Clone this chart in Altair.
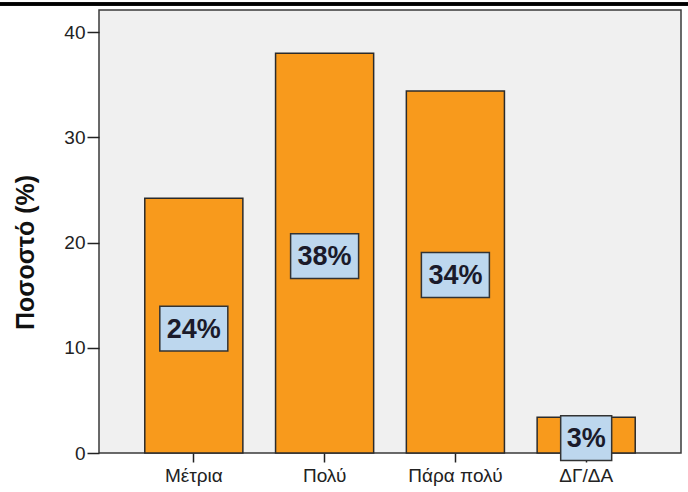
import altair as alt
import pandas as pd

categories = ["Μέτρια", "Πολύ", "Πάρα πολύ", "ΔΓ/ΔΑ"]
values = [24.2, 38.0, 34.4, 3.4]
labels = ["24%", "38%", "34%", "3%"]

df = pd.DataFrame({"cat": categories, "value": values, "label": labels})

FONT = "Liberation Sans"
WIDE = "M-1,-0.66L1,-0.66L1,0.66L-1,0.66Z"
NARROW = "M-0.75,-0.66L0.75,-0.66L0.75,0.66L-0.75,0.66Z"

x_enc = alt.X(
    "cat:N",
    sort=categories,
    scale=alt.Scale(paddingInner=0.25, paddingOuter=0.35),
    axis=alt.Axis(
        title=None, labelAngle=0, domain=False, tickSize=9, tickWidth=1.5,
        tickColor="#222", labelColor="#222", labelFontSize=19, labelPadding=4,
        labelFont=FONT,
    ),
)
y_scale = alt.Scale(domain=[0, 42.1], nice=False, zero=True)

base = alt.Chart(df)

bars = base.mark_bar(color="#f89a1c", stroke="#2b2b2b", strokeWidth=1.5).encode(
    x=x_enc,
    y=alt.Y(
        "value:Q",
        scale=y_scale,
        axis=alt.Axis(
            title="Ποσοστό (%)", values=[0, 10, 20, 30, 40], grid=False,
            domain=False, tickSize=12, tickWidth=1.5, tickColor="#222",
            labelColor="#222", labelFontSize=19, labelPadding=2, labelFont=FONT,
            titleFont=FONT, titleFontSize=25, titleFontWeight="bold",
            titleColor="#111", titleX=-74, titleY=242, titleAngle=-90,
            titleAlign="center", titleBaseline="middle",
        ),
    ),
)

lab = base.transform_calculate(
    mid="datum.value / 2",
    w="length(datum.label) > 2 ? 'wide' : 'narrow'",
)

boxes = lab.mark_point(
    filled=True, fill="#bdd7ee", stroke="#333333", strokeWidth=1.5,
    opacity=1, fillOpacity=1, size=4624, yOffset=3,
).encode(
    x=alt.X("cat:N", sort=categories),
    y=alt.Y("mid:Q", scale=y_scale),
    shape=alt.Shape("w:N", scale=alt.Scale(domain=["wide", "narrow"], range=[WIDE, NARROW]), legend=None),
)

texts = lab.mark_text(
    font=FONT, fontSize=27, fontWeight="bold", color="#1a1a2a", baseline="middle", yOffset=4,
).encode(
    x=alt.X("cat:N", sort=categories),
    y=alt.Y("mid:Q", scale=y_scale),
    text="label:N",
)

topline = alt.Chart(df).mark_rule(color="black", strokeWidth=3).encode(
    x=alt.value(-99), x2=alt.value(589), y=alt.value(-6)
)

chart = alt.layer(bars, boxes, texts, topline).properties(
    width=582, height=443,
    autosize=alt.AutoSizeParams(type="none"),
    padding={"left": 99, "top": 10, "right": 7, "bottom": 39},
    background="white",
).configure_view(
    fill="#f0f0f0", stroke="#3a3a3a", strokeWidth=1.5
)

chart.save("out.html", embed_options={"renderer": "svg", "actions": False})
